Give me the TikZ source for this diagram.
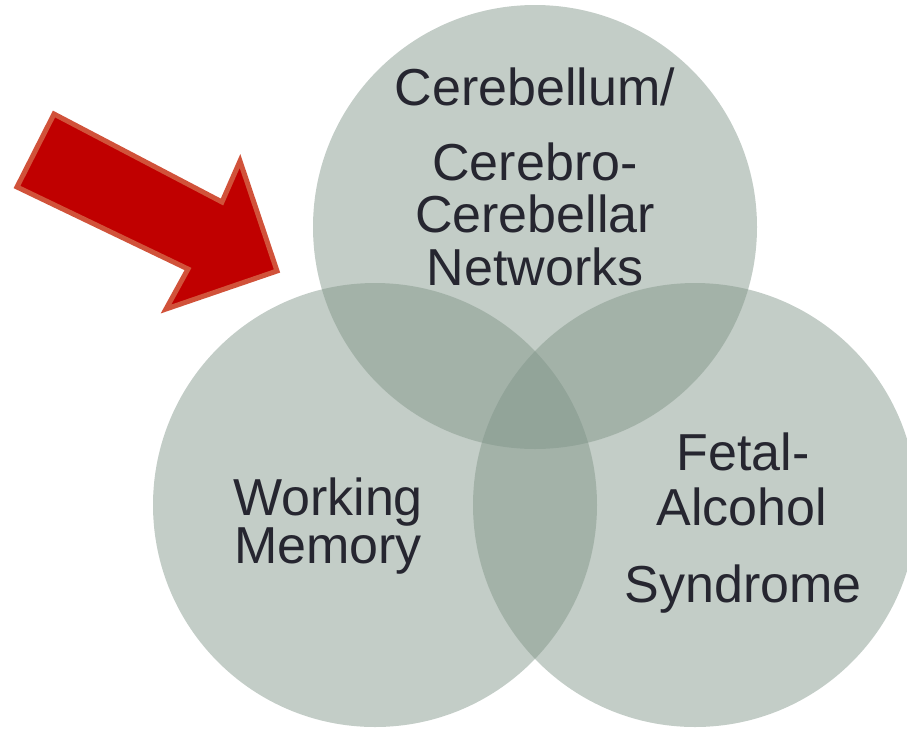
\documentclass[tikz,border=0pt]{standalone}
\usepackage{fontspec}
\setmainfont{Liberation Sans}
\definecolor{vennfill}{RGB}{127,148,135}
\definecolor{arrowred}{RGB}{192,0,0}
\definecolor{arrowedge}{RGB}{209,82,58}
\definecolor{labeltext}{RGB}{38,38,48}
\begin{document}
\begin{tikzpicture}[x=1pt,y=-1pt,
  venn/.style={circle, minimum size=444pt, inner sep=0pt, fill=vennfill,
    fill opacity=0.47, draw=none},
  lbl/.style={anchor=base, text=labeltext, inner sep=0pt,
    font=\fontsize{52}{52}\selectfont}]
\useasboundingbox (0,0) rectangle (907,729);
\clip (0,0) rectangle (907,729);

% the three overlapping sets
\node[venn] (cereb) at (535,227) {};
\node[venn] (wm)    at (375,505) {};
\node[venn] (fas)   at (695,505) {};

% set labels
\node[lbl] (cereb1) at (535,105) {Cerebellum/};
\node[lbl] (cereb2) at (535,180) {Cerebro-};
\node[lbl] (cereb3) at (535,232) {Cerebellar};
\node[lbl] (cereb4) at (535,285) {Networks};

\node[lbl] (wm1) at (328,515) {Working};
\node[lbl] (wm2) at (328,563) {Memory};

\node[lbl] (fas1) at (743,470) {Fetal-};
\node[lbl] (fas2) at (742,525) {Alcohol};
\node[lbl] (fas3) at (743,602) {Syndrome};

% block arrow pointing at the overlap
\draw[fill=arrowred, draw=arrowedge, line width=5pt, line join=miter]
  (54,114) -- (17,187) -- (188,269) -- (166,309) -- (277,271)
  -- (240,161) -- (222,202) -- cycle;
\end{tikzpicture}
\end{document}
